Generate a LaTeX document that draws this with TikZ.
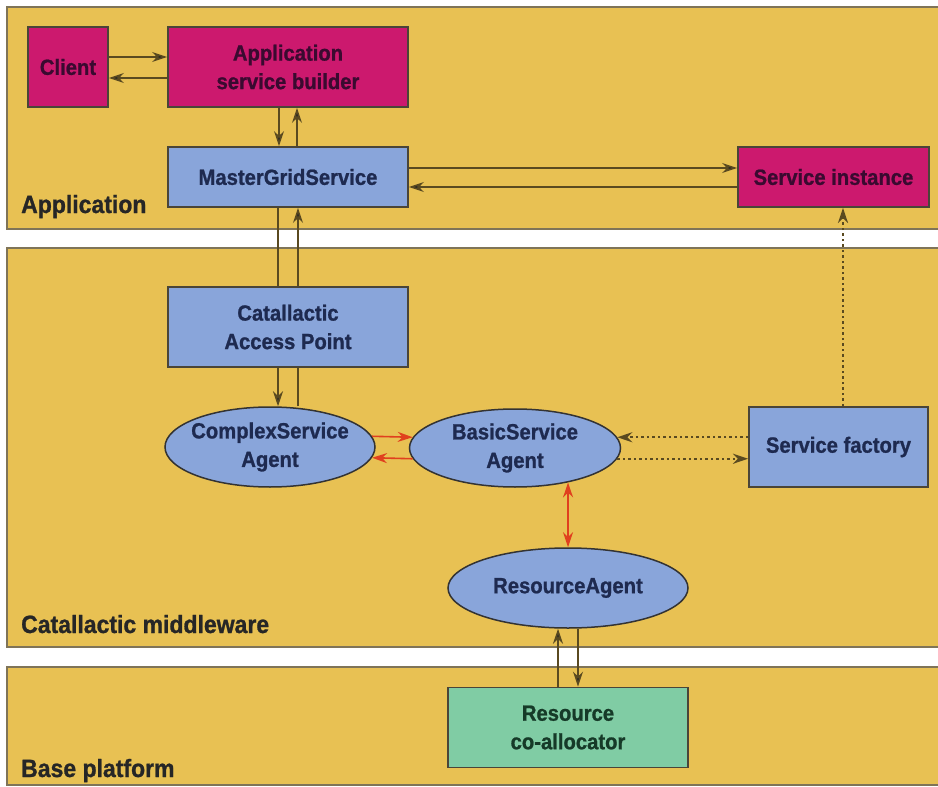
\documentclass[tikz,border=0pt]{standalone}
\usepackage{fontspec}
\setmainfont{Liberation Sans}[FakeStretch=0.92, BoldFeatures={FakeBold=1}]
\usetikzlibrary{shapes.geometric,arrows.meta}

\definecolor{panelfill}{HTML}{E8C153}
\definecolor{panelline}{HTML}{7F7458}
\definecolor{boxline}{HTML}{4A4538}
\definecolor{magentabox}{HTML}{CC196E}
\definecolor{bluebox}{HTML}{89A5DA}
\definecolor{greenbox}{HTML}{80CCA4}
\definecolor{magtext}{HTML}{3A0A30}
\definecolor{bluetext}{HTML}{1E2A50}
\definecolor{greentext}{HTML}{163A28}
\definecolor{linkcol}{HTML}{5A4A20}
\definecolor{redlink}{HTML}{E0401E}

\tikzset{
  panel/.style={fill=panelfill, draw=panelline, line width=2.8pt},
  layerlabel/.style={anchor=base west, inner sep=0pt, font=\fontsize{25}{28}\selectfont\bfseries, text=black!85},
  basebox/.style={rectangle, draw=boxline, line width=1.8pt, inner sep=0pt, align=center,
    font=\fontsize{22}{28.5}\selectfont\bfseries},
  magbox/.style={basebox, fill=magentabox, text=magtext},
  bluebx/.style={basebox, fill=bluebox, text=bluetext},
  greenbx/.style={basebox, fill=greenbox, text=greentext},
  agent/.style={ellipse, draw=black!80, line width=1.5pt, fill=bluebox, text=bluetext,
    inner xsep=-25pt, inner ysep=-8pt,
    align=center, font=\fontsize{22}{28.5}\selectfont\bfseries},
  arr/.style={draw=linkcol, line width=1.6pt, -{Stealth[length=15pt,width=10pt,fill=black!85]}},
  plainlink/.style={draw=linkcol, line width=1.6pt},
  redarr/.style={draw=redlink, line width=1.6pt, -{Stealth[length=15pt,width=10pt]}},
  redboth/.style={draw=redlink, line width=1.6pt, {Stealth[length=15pt,width=10pt]}-{Stealth[length=15pt,width=10pt]}},
  dotarr/.style={draw=linkcol, line width=2.4pt, dash pattern=on 2.5pt off 3pt, -{Stealth[length=15pt,width=10pt,fill=black!85]}},
}

\begin{document}
\begin{tikzpicture}[x=1pt, y=-1pt]
  \useasboundingbox (0,0) rectangle (938,787);
  \fill[white] (0,0) rectangle (938,787);
  \clip (0,0) rectangle (938,787);

  % layers
  \draw[panel] (7,7) rectangle (950,229);
  \draw[panel] (7,248) rectangle (950,647);
  \draw[panel] (7,667) rectangle (950,785);
  \node[layerlabel] (lapp) at (21,213) {Application};
  \node[layerlabel] (lmid) at (21,633) {Catallactic middleware};
  \node[layerlabel] (lbase) at (21,777) {Base platform};

  % application layer
  \node[magbox, minimum width=80pt, minimum height=80pt] (client) at (68,67) {Client};
  \node[magbox, minimum width=240pt, minimum height=80pt] (asb) at (288,67) {Application\\service builder};
  \node[bluebx, minimum width=240pt, minimum height=60pt] (mgs) at (288,177) {MasterGridService};
  \node[magbox, minimum width=191pt, minimum height=60pt] (si) at (833.5,177) {Service instance};

  % middleware layer
  \node[bluebx, minimum width=240pt, minimum height=80pt] (cap) at (288,327) {Catallactic\\Access Point};
  \node[agent, minimum width=210pt, minimum height=80pt] (csa) at (270,447) {ComplexService\\Agent};
  \node[agent, minimum width=211pt, minimum height=78pt] (bsa) at (515,448) {BasicService\\Agent};
  \node[bluebx, minimum width=179pt, minimum height=80pt] (sf) at (838.5,447) {Service factory};
  \node[agent, minimum width=240pt, minimum height=80pt] (ra) at (568,588) {ResourceAgent};

  % base platform
  \node[greenbx, minimum width=240pt, minimum height=80pt] (rca) at (568,727.5) {Resource\\co-allocator};

  % client <-> builder
  \draw[arr] ([yshift=10pt]client.east) -- ([yshift=10pt]asb.west);
  \draw[arr] ([yshift=-11pt]asb.west) -- ([yshift=-11pt]client.east);
  % builder <-> master grid service
  \draw[arr] ([xshift=-9pt]asb.south) -- ([xshift=-9pt]mgs.north);
  \draw[arr] ([xshift=9pt]mgs.north) -- ([xshift=9pt]asb.south);
  % master grid service <-> service instance
  \draw[arr] ([yshift=9pt]mgs.east) -- ([yshift=9pt]si.west);
  \draw[arr] ([yshift=-10pt]si.west) -- ([yshift=-10pt]mgs.east);
  % master grid service <-> access point
  \draw[plainlink] ([xshift=-10pt]mgs.south) -- ([xshift=-10pt]cap.north);
  \draw[arr] ([xshift=10pt]cap.north) -- ([xshift=10pt]mgs.south);
  % access point <-> complex service agent
  \draw[arr] ([xshift=-10pt]cap.south) -- ([xshift=-10pt]cap.south |- csa.north);
  \draw[plainlink] ([xshift=10pt]cap.south |- csa.north) -- ([xshift=10pt]cap.south);
  % agents
  \draw[redarr] (csa.6) -- (bsa.174);
  \draw[redarr] (bsa.-174) -- (csa.-6);
  \draw[dotarr] (sf.west |- bsa.6) -- (bsa.6);
  \draw[dotarr] (bsa.-6) -- (bsa.-6 -| sf.west);
  \draw[dotarr] ([xshift=4.5pt]sf.north) -- ([xshift=4.5pt]sf.north |- si.south);
  \draw[redboth] (bsa.-33) -- (bsa.-33 |- ra.north);
  % resource agent <-> co-allocator
  \draw[arr] ([xshift=-10pt]rca.north) -- ([xshift=-10pt]rca.north |- ra.south);
  \draw[arr] ([xshift=10pt]rca.north |- ra.south) -- ([xshift=10pt]rca.north);
\end{tikzpicture}
\end{document}
